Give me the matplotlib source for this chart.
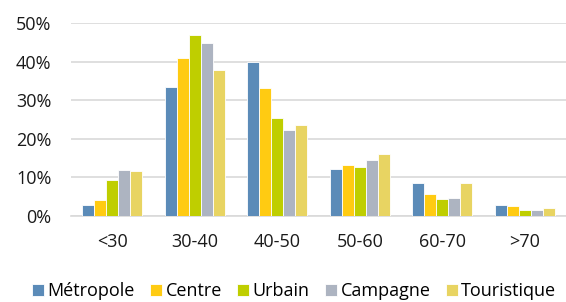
import matplotlib
matplotlib.use("Agg")
import matplotlib.pyplot as plt
import numpy as np
from matplotlib.ticker import FuncFormatter

plt.rcParams["font.family"] = ["Open Sans", "DejaVu Sans"]

# tranches d'âge
categories = ["<30", "30-40", "40-50", "50-60", "60-70", ">70"]

# parts par type de territoire (en %)
metropole = [2.8, 33.4, 40.0, 12.3, 8.6, 2.8]
centre = [4.1, 41.0, 33.1, 13.2, 5.8, 2.6]
urbain = [9.3, 46.8, 25.4, 12.7, 4.3, 1.5]
campagne = [11.9, 44.8, 22.2, 14.5, 4.7, 1.6]
touristique = [11.7, 37.7, 23.5, 16.1, 8.6, 2.1]

series = ["Métropole", "Centre", "Urbain", "Campagne", "Touristique"]
values = [metropole, centre, urbain, campagne, touristique]
colors = ["#5B8BB8", "#FFCB12", "#BFCE00", "#ADB4C1", "#E8D462"]

fig = plt.figure(figsize=(5.66, 3.02), dpi=100)
ax = fig.add_axes([71 / 566, 1 - 216 / 302, 495 / 566, 193 / 302])

x = np.arange(len(categories))
w = 0.146
for i, (name, vals, col) in enumerate(zip(series, values, colors)):
    ax.bar(x + (i - 2) * w, np.array(vals) / 100, width=w, color=col,
           edgecolor="white", linewidth=0.6, label=name, zorder=3)

ax.set_xlim(-0.5, len(categories) - 0.5)
ax.set_ylim(0, 0.5)
ax.set_yticks(np.arange(0, 0.51, 0.1))
ax.yaxis.set_major_formatter(FuncFormatter(lambda v, p: f"{v * 100:.0f}%"))
ax.set_xticks(x)
ax.set_xticklabels(categories)

ax.grid(axis="y", color="#D9D9D9", linewidth=1.2, zorder=0)
ax.set_axisbelow(True)
for s in ["top", "right", "left"]:
    ax.spines[s].set_visible(False)
ax.spines["bottom"].set_color("#D9D9D9")
ax.spines["bottom"].set_linewidth(1.2)
ax.tick_params(axis="both", length=0, labelsize=13, colors="#1a1a1a")
ax.tick_params(axis="y", pad=14)
ax.tick_params(axis="x", pad=12)

fig.legend(loc="center", bbox_to_anchor=(0.52, 0.036), ncol=5,
           frameon=False, fontsize=13, handlelength=0.65, handleheight=0.65,
           handletextpad=0.2, columnspacing=0.85, borderaxespad=0)

fig.savefig("out.png", dpi=100)
